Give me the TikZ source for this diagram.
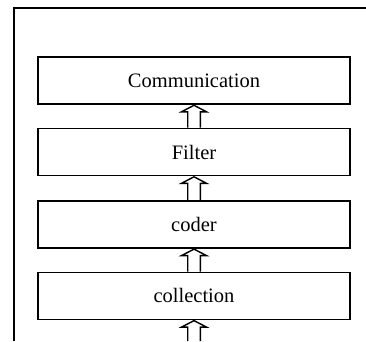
\documentclass[tikz,border=0pt]{standalone}
\usepackage{fontspec}
\setmainfont{Liberation Serif}
\newcommand\hollowup[2]{%
  \draw[arr] ([xshift=-6.3pt]#1) -- ([xshift=-6.3pt,yshift=-7pt]#2.south)
    -- ([xshift=-12.5pt,yshift=-7pt]#2.south) -- ([yshift=-0.5pt]#2.south)
    -- ([xshift=12.5pt,yshift=-7pt]#2.south) -- ([xshift=6.3pt,yshift=-7pt]#2.south)
    -- ([xshift=6.3pt]#1);}
\begin{document}
\begin{tikzpicture}[x=1pt,y=1pt,
  layer/.style={draw, line width=1.6pt, minimum width=312pt, minimum height=47pt,
    inner sep=0pt, font=\fontsize{20.5}{24}\selectfont},
  arr/.style={line width=1.4pt, line join=miter},
  frame/.style={line width=1.8pt}]
\useasboundingbox (0,0) rectangle (366,-341);
\draw[frame] (14,-341) -- (14,-8.3) -- (366,-8.3);
\node[layer] (comm) at (194,-80.5) {Communication};
\node[layer] (filt) at (194,-152) {Filter};
\node[layer] (cod) at (194,-224.3) {coder};
\node[layer] (coll) at (194,-295.8) {collection};
\coordinate (in) at (194,-341);
\hollowup{filt.north}{comm}
\hollowup{cod.north}{filt}
\hollowup{coll.north}{cod}
\hollowup{in}{coll}
\end{tikzpicture}
\end{document}
